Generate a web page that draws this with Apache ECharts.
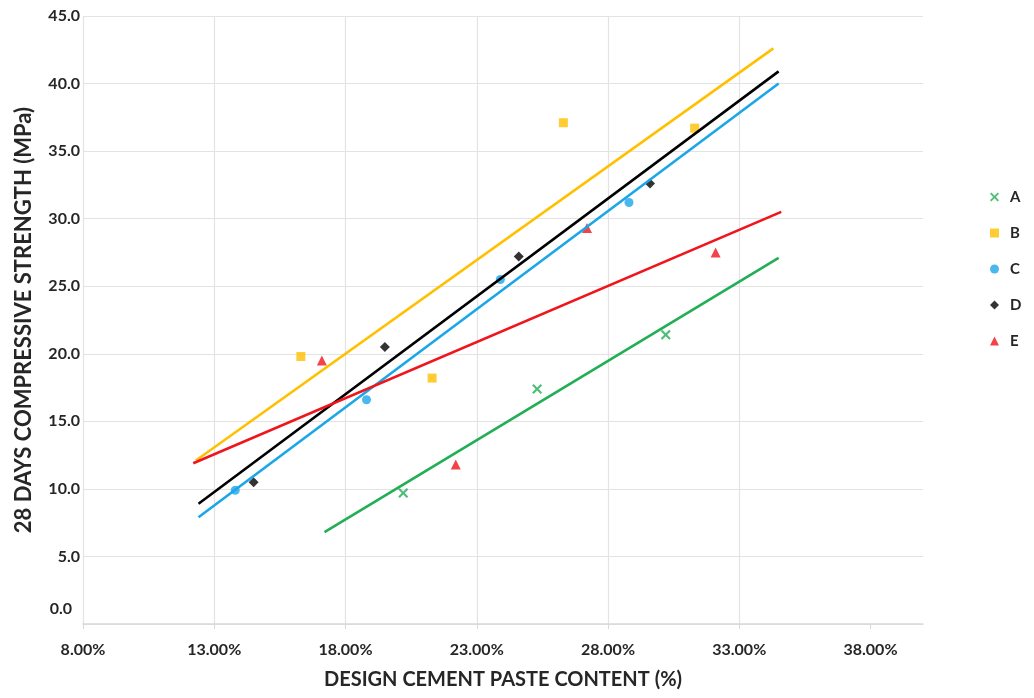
<!DOCTYPE html>
<html>
<head>
<meta charset="utf-8">
<script src="https://cdn.jsdelivr.net/npm/echarts@6/dist/echarts.min.js"></script>
<style>
html,body{margin:0;padding:0;background:#fff;}
#chart{width:1034px;height:698px;}
</style>
</head>
<body>
<div id="chart"></div>
<script>
// ---- data ----
const seriesNames = ['A', 'B', 'C', 'D', 'E'];
const xTicks = [8, 13, 18, 23, 28, 33, 38];

const aX = [20.2, 25.3, 30.2];
const aY = [9.7, 17.4, 21.4];
const bX = [16.3, 21.3, 26.3, 31.3];
const bY = [19.8, 18.2, 37.1, 36.7];
const cX = [13.8, 18.8, 23.9, 28.8];
const cY = [9.9, 16.6, 25.5, 31.2];
const dX = [14.5, 19.5, 24.6, 29.6];
const dY = [10.5, 20.5, 27.2, 32.6];
const eX = [17.1, 22.2, 27.2, 32.1];
const eY = [19.5, 11.8, 29.3, 27.5];

// trendline endpoints (x %, y MPa)
const aTrend = [[17.2, 6.8], [34.5, 27.1]];
const bTrend = [[12.3, 12.1], [34.3, 42.6]];
const cTrend = [[12.4, 7.9], [34.5, 40.0]];
const dTrend = [[12.4, 8.9], [34.5, 40.9]];
const eTrend = [[12.2, 11.9], [34.6, 30.5]];

// ---- styling ----
const colors = ['#22AE55', '#FFC000', '#1BA6E8', '#000000', '#F0141C'];
const xPath = 'path://M0,3 L3,0 L10,7 L17,0 L20,3 L13,10 L20,17 L17,20 L10,13 L3,20 L0,17 L7,10 Z';
const symbols = [xPath, 'rect', 'circle', 'diamond', 'triangle'];
const symbolSizes = [10, 9, 9, 10, 10];
const xs = [aX, bX, cX, dX, eX];
const ys = [aY, bY, cY, dY, eY];
const trends = [aTrend, bTrend, cTrend, dTrend, eTrend];
const textColor = '#262626';
const fontFamily = 'Lato, "Open Sans", sans-serif';

const series = [];
seriesNames.forEach((n, i) => {
  series.push({
    name: n,
    type: 'scatter',
    data: xs[i].map((x, k) => [x, ys[i][k]]),
    symbol: symbols[i],
    symbolSize: symbolSizes[i],
    itemStyle: { color: colors[i] },
    z: 2
  });
});
seriesNames.forEach((n, i) => {
  series.push({
    name: n + ' trend',
    type: 'line',
    data: trends[i],
    showSymbol: false,
    symbol: 'none',
    lineStyle: { color: colors[i], width: 2.6 },
    z: 5,
    silent: true
  });
});

const chart = echarts.init(document.getElementById('chart'), null, { renderer: 'canvas' });
chart.setOption({
  animation: false,
  backgroundColor: '#ffffff',
  textStyle: { fontFamily: fontFamily },
  grid: { left: 83, right: 111, top: 16, bottom: 74, containLabel: false },
  legend: {
    data: seriesNames,
    orient: 'vertical',
    left: 985,
    top: 184,
    itemWidth: 9,
    itemHeight: 9,
    itemGap: 20,
    textStyle: { color: textColor, fontSize: 15, fontWeight: 'bold', fontFamily: fontFamily, lineHeight: 16, padding: [0, 0, 0, 6] }
  },
  xAxis: {
    type: 'value',
    min: 8,
    max: 40,
    name: 'DESIGN CEMENT PASTE CONTENT (%)',
    nameLocation: 'middle',
    nameGap: 46,
    nameTextStyle: { color: textColor, fontSize: 20, fontWeight: 'bold', fontFamily: fontFamily },
    axisLine: { show: true, lineStyle: { color: '#D9D9D9', width: 1.5 } },
    axisTick: { show: true, length: 5, customValues: xTicks, lineStyle: { color: '#D9D9D9' } },
    axisLabel: {
      customValues: xTicks,
      margin: 18,
      color: textColor, fontSize: 16, fontWeight: 'bold', fontFamily: fontFamily,
      formatter: v => v.toFixed(2) + '%'
    },
    splitLine: { show: true, showMaxLine: false, lineStyle: { color: '#E3E3E3', width: 1.2 } }
  },
  yAxis: {
    type: 'value',
    min: 0,
    max: 45,
    interval: 5,
    name: '28 DAYS COMPRESSIVE STRENGTH (MPa)',
    nameLocation: 'middle',
    nameGap: 48,
    nameTextStyle: { color: textColor, fontSize: 22, fontWeight: 'bold', fontFamily: fontFamily },
    axisLine: { show: false },
    axisTick: { show: false },
    axisLabel: {
      margin: 3,
      color: textColor, fontSize: 16, fontWeight: 'bold', fontFamily: fontFamily,
      formatter: v => v === 0 ? '{z|0.0}' : v.toFixed(1),
      rich: { z: { color: textColor, fontSize: 16, fontWeight: 'bold', fontFamily: fontFamily, padding: [0, 8, 30, 0] } }
    },
    splitLine: { show: true, lineStyle: { color: '#E3E3E3', width: 1.2 } }
  },
  series: series
});
</script>
</body>
</html>
